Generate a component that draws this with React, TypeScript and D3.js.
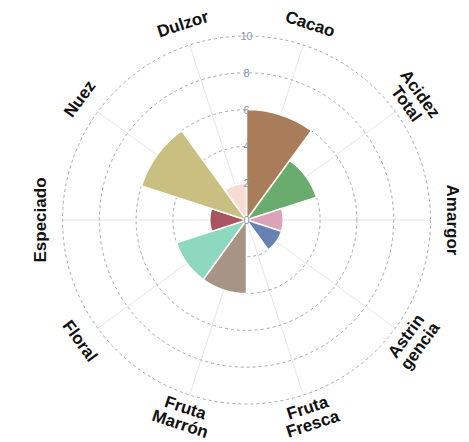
import React from "react";
import * as d3 from "d3";

const categories = ["Cacao", "Acidez Total", "Amargor", "Astringencia", "Fruta Fresca", "Fruta Marrón", "Floral", "Especiado", "Nuez", "Dulzor"];
const labelLines = [["Cacao"], ["Acidez", "Total"], ["Amargor"], ["Astrin", "gencia"], ["Fruta", "Fresca"], ["Fruta", "Marrón"], ["Floral"], ["Especiado"], ["Nuez"], ["Dulzor"]];
const values = [6, 4, 2, 2, 0, 4, 4, 2, 6, 2];
const colors = ["#a97d5a", "#6aab6e", "#dba3b8", "#6682b0", "#cccccc", "#a89484", "#8ed8c0", "#a9545e", "#c8bf80", "#f6dcd2"];
const tickValues = [0, 2, 4, 6, 8, 10];
const gridValues = [2, 4, 6, 8, 10];

const W = 469, H = 442;
const cx = 246.5, cy = 220;
const R = 184;

export default function App() {
  const angle = d3.scaleBand<string>().domain(categories).range([0, 2 * Math.PI]).padding(0);
  const r = d3.scaleLinear().domain([0, 10]).range([0, R]);
  const arc = d3.arc<any>()
    .innerRadius(0)
    .outerRadius((d: any) => r(d.v))
    .startAngle((d: any) => angle(d.c)!)
    .endAngle((d: any) => angle(d.c)! + angle.bandwidth());

  const labelR = 206;
  const lineH = 17;

  return (
    <svg width={W} height={H} style={{ position: "absolute", left: 0, top: 0, background: "#fff" }}>
      <g transform={`translate(${cx},${cy})`}>
        {categories.map((c) => {
          const a = angle(c)! + angle.bandwidth() / 2;
          return (
            <line key={"s" + c} x1={0} y1={0} x2={R * Math.sin(a)} y2={-R * Math.cos(a)} stroke="#e6e6e6" strokeWidth={1} />
          );
        })}
        {gridValues.map((v) => (
          <circle key={"g" + v} r={r(v)} fill="none" stroke="#a8a8a8" strokeWidth={1} strokeDasharray="3,3" />
        ))}
        {categories.map((c, i) => (
          <path key={"b" + c} d={arc({ c, v: values[i] })!} fill={colors[i]} stroke="#fff" strokeWidth={1.5} />
        ))}
        {tickValues.map((v) => (
          <text key={"t" + v} x={0} y={-r(v)} textAnchor="middle" dominantBaseline="central" fontFamily="Liberation Sans, Arial, sans-serif" fontSize={11} fill="#8a94a6">
            {v}
          </text>
        ))}
        {categories.map((c, i) => {
          const aDeg = ((angle(c)! + angle.bandwidth() / 2) * 180) / Math.PI;
          const a = (aDeg * Math.PI) / 180;
          const x = labelR * Math.sin(a);
          const y = -labelR * Math.cos(a);
          let rot = aDeg;
          if (aDeg > 90.5 && aDeg < 269.5) rot = aDeg - 180;
          else if (aDeg >= 269.5) rot = aDeg - 360;
          const lines = labelLines[i];
          const off = -((lines.length - 1) * lineH) / 2;
          return (
            <text key={"l" + c} transform={`translate(${x},${y}) rotate(${rot})`} textAnchor="middle" fontFamily="Liberation Sans, Arial, sans-serif" fontWeight="bold" fontSize={17} fill="#111">
              {lines.map((ln, j) => (
                <tspan key={j} x={0} y={off + j * lineH} dominantBaseline="central">{ln}</tspan>
              ))}
            </text>
          );
        })}
      </g>
    </svg>
  );
}
